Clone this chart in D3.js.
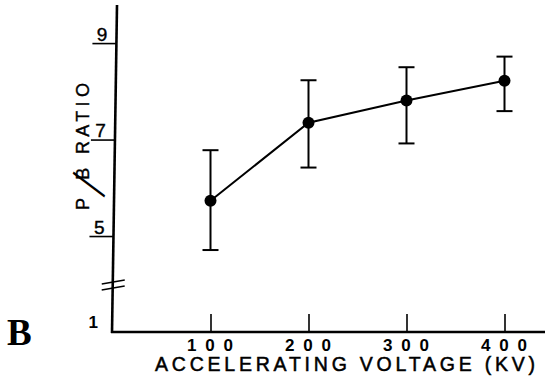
<!DOCTYPE html>
<html><head><meta charset="utf-8">
<script src="https://cdn.jsdelivr.net/npm/d3@7"></script>
<style>html,body{margin:0;padding:0;background:#fff;} svg{display:block;}</style>
</head><body><svg id="c" width="545" height="381"></svg>
<script>
// ---- data ----
const voltages = [100, 200, 300, 400];
const pbRatio  = [5.74, 7.36, 7.82, 8.23];
const errUpper = [6.79, 8.24, 8.51, 8.73];
const errLower = [4.72, 6.43, 6.93, 7.60];
const xTickValues = [100, 200, 300, 400];
const yTickValues = [5, 7, 9];
const yBreakLabel = "1";
const xTitle = "ACCELERATING VOLTAGE (KV)";
const yTitle = "P/B RATIO";
const panelLabel = "B";

const svg = d3.select("#c");
const SANS = "'Liberation Sans', Arial, Helvetica, sans-serif";
const axisY0 = 332;          // pixel row of the x axis
const x = d3.scaleLinear().domain([100, 400]).range([210.5, 504.5]);
const y = d3.scaleLinear().domain([3, 9.8]).range([333, 5]);
// the hand-drawn y axis leans slightly
const axX = py => 112 + (axisY0 - py) * (5 / 327);

// ---- y axis ----
svg.append("line")
  .attr("x1", axX(axisY0)).attr("y1", axisY0 + 1)
  .attr("x2", axX(5)).attr("y2", 5)
  .attr("stroke", "#000").attr("stroke-width", 2.6);

const gy = svg.append("g").call(
  d3.axisLeft(y).tickValues(yTickValues).tickSize(24).tickPadding(0).tickFormat(d3.format("d"))
);
gy.select(".domain").remove();
gy.selectAll(".tick").attr("transform", d => `translate(${axX(y(d))},${y(d)})`);
gy.selectAll(".tick line").attr("stroke", "#000").attr("stroke-width", 1.6);
gy.selectAll(".tick text")
  .attr("x", -9).attr("y", -3).attr("dy", 0)
  .attr("text-anchor", "end")
  .attr("font-family", SANS).attr("font-size", 19)
  .attr("stroke", "#000").attr("stroke-width", 0.4)
  .attr("fill", "#000");

// break marks on the y axis
[282, 288].forEach(by => {
  svg.append("line")
    .attr("x1", axX(by) - 11).attr("y1", by + 2)
    .attr("x2", axX(by) + 12).attr("y2", by - 2)
    .attr("stroke", "#000").attr("stroke-width", 1.6);
});
svg.append("text")
  .attr("x", 98).attr("y", 328).attr("text-anchor", "end")
  .attr("font-family", SANS).attr("font-weight", "bold").attr("font-size", 17)
  .text(yBreakLabel);

// ---- x axis ----
svg.append("line")
  .attr("x1", axX(axisY0) - 1).attr("y1", axisY0)
  .attr("x2", 545).attr("y2", axisY0)
  .attr("stroke", "#000").attr("stroke-width", 2.4);

const gx = svg.append("g").attr("transform", `translate(0,${axisY0})`).call(
  d3.axisBottom(x).tickValues(xTickValues).tickSizeInner(-18).tickSizeOuter(0)
);
gx.select(".domain").remove();
gx.selectAll(".tick line").attr("stroke", "#000").attr("stroke-width", 1.6);
gx.selectAll(".tick text")
  .attr("x", -1).attr("y", 18.5).attr("dy", 0)
  .attr("font-family", SANS).attr("font-weight", "bold").attr("font-size", 17)
  .attr("textLength", 46).attr("lengthAdjust", "spacing")
  .attr("fill", "#000");

svg.append("text")
  .attr("x", 155).attr("y", 371)
  .attr("font-family", SANS).attr("font-size", 19.5)
  .attr("stroke", "#000").attr("stroke-width", 0.5)
  .attr("textLength", 380).attr("lengthAdjust", "spacing")
  .text(xTitle);

// ---- y title (rotated), one text element ----
const slashAt = yTitle.indexOf("/");
const yt = svg.append("text")
  .attr("transform", "translate(89,146.5) rotate(-90)")
  .attr("x", -63.5).attr("y", 0)
  .attr("font-family", SANS).attr("font-size", 18)
  .attr("stroke", "#000").attr("stroke-width", 0.4)
  .attr("textLength", 127).attr("lengthAdjust", "spacing");
yt.append("tspan").text(yTitle.slice(0, slashAt));
yt.append("tspan").attr("dx", -3).attr("dy", 11)
  .attr("font-family", "'DejaVu Sans', sans-serif").attr("font-weight", 200)
  .attr("stroke-width", 0)
  .attr("font-size", 46).attr("rotate", 20).text("/");
yt.append("tspan").attr("dx", -3).attr("dy", -11).text(yTitle.slice(slashAt + 1));

// ---- panel label ----
svg.append("text")
  .attr("x", 7).attr("y", 345)
  .attr("font-family", "'Liberation Serif', 'Times New Roman', serif")
  .attr("font-weight", "bold").attr("font-size", 37)
  .text(panelLabel);

// ---- data ----
const pts = voltages.map((v, i) => ({v, m: pbRatio[i], hi: errUpper[i], lo: errLower[i]}));

const eb = svg.append("g").attr("stroke", "#000").attr("stroke-width", 2);
pts.forEach(p => {
  eb.append("line").attr("x1", x(p.v)).attr("x2", x(p.v)).attr("y1", y(p.hi)).attr("y2", y(p.lo));
  eb.append("line").attr("x1", x(p.v) - 8).attr("x2", x(p.v) + 8).attr("y1", y(p.hi)).attr("y2", y(p.hi));
  eb.append("line").attr("x1", x(p.v) - 8).attr("x2", x(p.v) + 8).attr("y1", y(p.lo)).attr("y2", y(p.lo));
});

svg.append("path")
  .datum(pts)
  .attr("fill", "none").attr("stroke", "#000").attr("stroke-width", 2)
  .attr("d", d3.line().x(p => x(p.v)).y(p => y(p.m)));

svg.selectAll("circle.pt").data(pts).join("circle")
  .attr("class", "pt")
  .attr("cx", p => x(p.v)).attr("cy", p => y(p.m)).attr("r", 6)
  .attr("fill", "#000");
</script>
</body></html>
